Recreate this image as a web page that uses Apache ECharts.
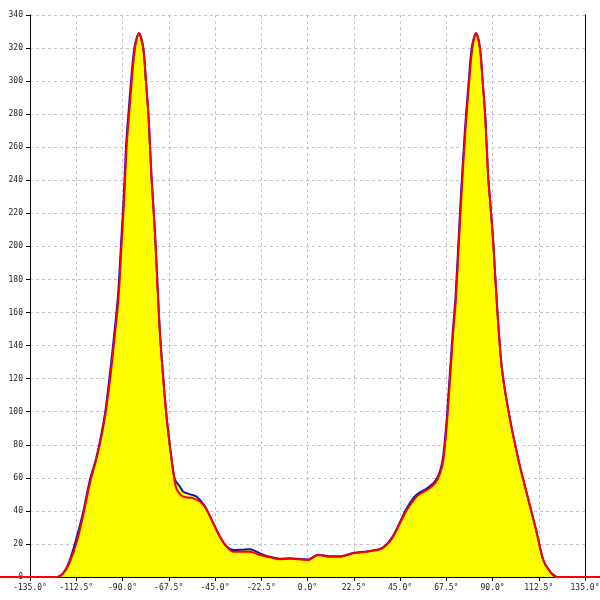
<!DOCTYPE html>
<html><head><meta charset="utf-8">
<script src="https://cdn.jsdelivr.net/npm/echarts@6/dist/echarts.min.js"></script>
<style>html,body{margin:0;padding:0;background:#fff}#c{width:600px;height:600px}</style>
</head><body><div id="c"></div>
<script>
var xTicks = [-135, -112.5, -90, -67.5, -45, -22.5, 0, 22.5, 45, 67.5, 90, 112.5, 135];
var redDeg = [-150,-121.5,-119,-116,-112.3,-109,-105.8,-103,-100.9,-98.5,-96.1,-94.5,-92,-90.4,-89.2,-88,-86.8,-85.5,-83.9,-82,-79.9,-78.6,-77.4,-76.6,-75.8,-74.2,-71.8,-69.3,-67.7,-66.1,-64.5,-63.6,-62,-60.4,-57.5,-55.5,-52.3,-49.9,-45.8,-42.6,-39.3,-36.1,-32,-28,-23.1,-18.2,-13.4,-8.5,-4.5,-1.5,0.4,3,5.3,8,10.9,15.8,22.3,28.8,35.3,38.5,41.7,45,48.3,52.3,55,58,62,64.5,66.1,67.7,69.3,70.9,72.2,73.9,75.3,76.3,77.4,78.7,80.2,82,83.9,85.2,86.4,87.2,88,88.8,90.4,92,94.5,97.7,102.6,107.4,111.5,114.7,118,121.2,150];
var redVal = [0,0,2,8,21,38,57,70,81,97,119,137,168,202,228,260,280,300,320,329,320,300,280,260,240,208,148,107,87,71,57,53,50,48.6,48,47.6,45.6,42.5,32.5,24.4,18.3,15.3,15.3,15.3,13.3,11.9,10.7,11.1,10.7,10.5,10.3,12,13.3,12.8,12.3,12.3,14.3,15.3,16.8,19.4,24.4,32.5,40.5,47.6,50.5,52.6,56.7,62.7,71,91,119,148,168,208,240,260,280,300,320,329,320,300,280,260,240,228,202,168,127,101,71,47,27,10.3,3.2,0,0];
var blueDeg = [-121.5,-119,-116,-112.5,-109,-106,-103,-101,-98.5,-96.3,-94.7,-92.2,-90.6,-89.4,-88.2,-87,-85.7,-84.1,-82,-79.9,-78.6,-77.4,-76.6,-75.8,-74.2,-71.8,-69.3,-67.7,-66.1,-64.5,-62,-60.4,-57,-53.9,-50,-45.8,-42.6,-39.3,-36.1,-32,-28,-23.1,-18.2,-13.4,-8.5,-4.5,-1.5,0.4,3,5.3,8,10.9,15.8,22.3,28.8,35.3,38.3,41.5,44.8,48,52,55,58,61.8,64.3,65.9,67.5,69.1,70.7,72,73.7,75.1,76.1,77.2,78.5,80,82,83.9,85.2,86.4,87.2,88,88.8,90.4,92,94.5,97.7,102.6,107.4,111.5,114.7,118,121.2];
var blueVal = [0,2,9,23,40,58,71,82,99,121,139,170,204,230,262,282,302,321,329,320,300,280,260,240,208,148,107,87,71,59,54.6,51.6,50,48.6,43,32.5,24.4,18.5,16.3,16.5,16.8,14.3,12.2,11,11.3,11,10.7,10.6,12.3,13.5,13,12.5,12.5,14.5,15.5,17,19.6,24.6,32.7,41,48.5,51.5,53.5,57.5,63.5,72,92,120,149,169,209,241,261,281,301,321,329,320,300,280,260,240,228,202,168,127,101,71,47,27,10.3,3.2,0];
var yTicks = [0,20,40,60,80,100,120,140,160,180,200,220,240,260,280,300,320,340];

function pairs(xs, ys){ return xs.map(function(x,i){ return [x, ys[i]]; }); }

// plot area: x from 30px to 585px covers -135..135 ; the red trace continues across the full 600px width
var pxPerDeg = 555 / 270;
var fullMin = -135 - 30 / pxPerDeg;
var fullMax = 135 + 15 / pxPerDeg;

var chart = echarts.init(document.getElementById('c'), null, {renderer:'canvas'});
var lblFont = {fontFamily:'DejaVu Sans Mono', fontSize:8, color:'#222'};
var dash = {color:'#c4c4c4', type:[3,3], width:1};
chart.setOption({
  animation:false,
  grid:[
    {left:30, right:15, top:15, bottom:23, containLabel:false, outerBoundsMode:'none'},
    {left:0, right:0, top:15, bottom:23, containLabel:false, outerBoundsMode:'none'}
  ],
  xAxis:[{
    type:'value', min:-135, max:135, interval:22.5, gridIndex:0,
    axisLine:{show:true, onZero:false, lineStyle:{color:'#000', width:1}},
    axisTick:{show:true, length:4, lineStyle:{color:'#000'}},
    axisLabel:Object.assign({margin:7, formatter:function(v){return v.toFixed(1)+'°';}}, lblFont),
    splitLine:{show:true, lineStyle:dash}
  },{
    type:'value', min:fullMin, max:fullMax, gridIndex:1, show:false
  }],
  yAxis:[{
    type:'value', min:0, max:340, interval:20, position:'left', gridIndex:0,
    axisLine:{show:true, onZero:false, lineStyle:{color:'#000', width:1}},
    axisTick:{show:true, length:4, lineStyle:{color:'#000'}},
    axisLabel:Object.assign({margin:7}, lblFont),
    splitLine:{show:true, lineStyle:dash}
  },{
    type:'value', min:0, max:340, interval:20, position:'right', gridIndex:0,
    axisLine:{show:true, onZero:false, lineStyle:{color:'#000', width:1}},
    axisTick:{show:false}, axisLabel:{show:false}, splitLine:{show:false}
  },{
    type:'value', min:0, max:340, gridIndex:1, show:false
  }],
  series:[
    {type:'line', data:pairs(blueDeg, blueVal), showSymbol:false, smooth:0.3,
     xAxisIndex:0, yAxisIndex:0,
     lineStyle:{color:'#1010c8', width:2}, areaStyle:{color:'#ffff00', opacity:1}, z:2},
    {type:'line', data:pairs(redDeg, redVal), showSymbol:false, smooth:0.3, clip:false,
     xAxisIndex:1, yAxisIndex:2,
     lineStyle:{color:'#ff0000', width:2}, z:3}
  ]
});
</script></body></html>
